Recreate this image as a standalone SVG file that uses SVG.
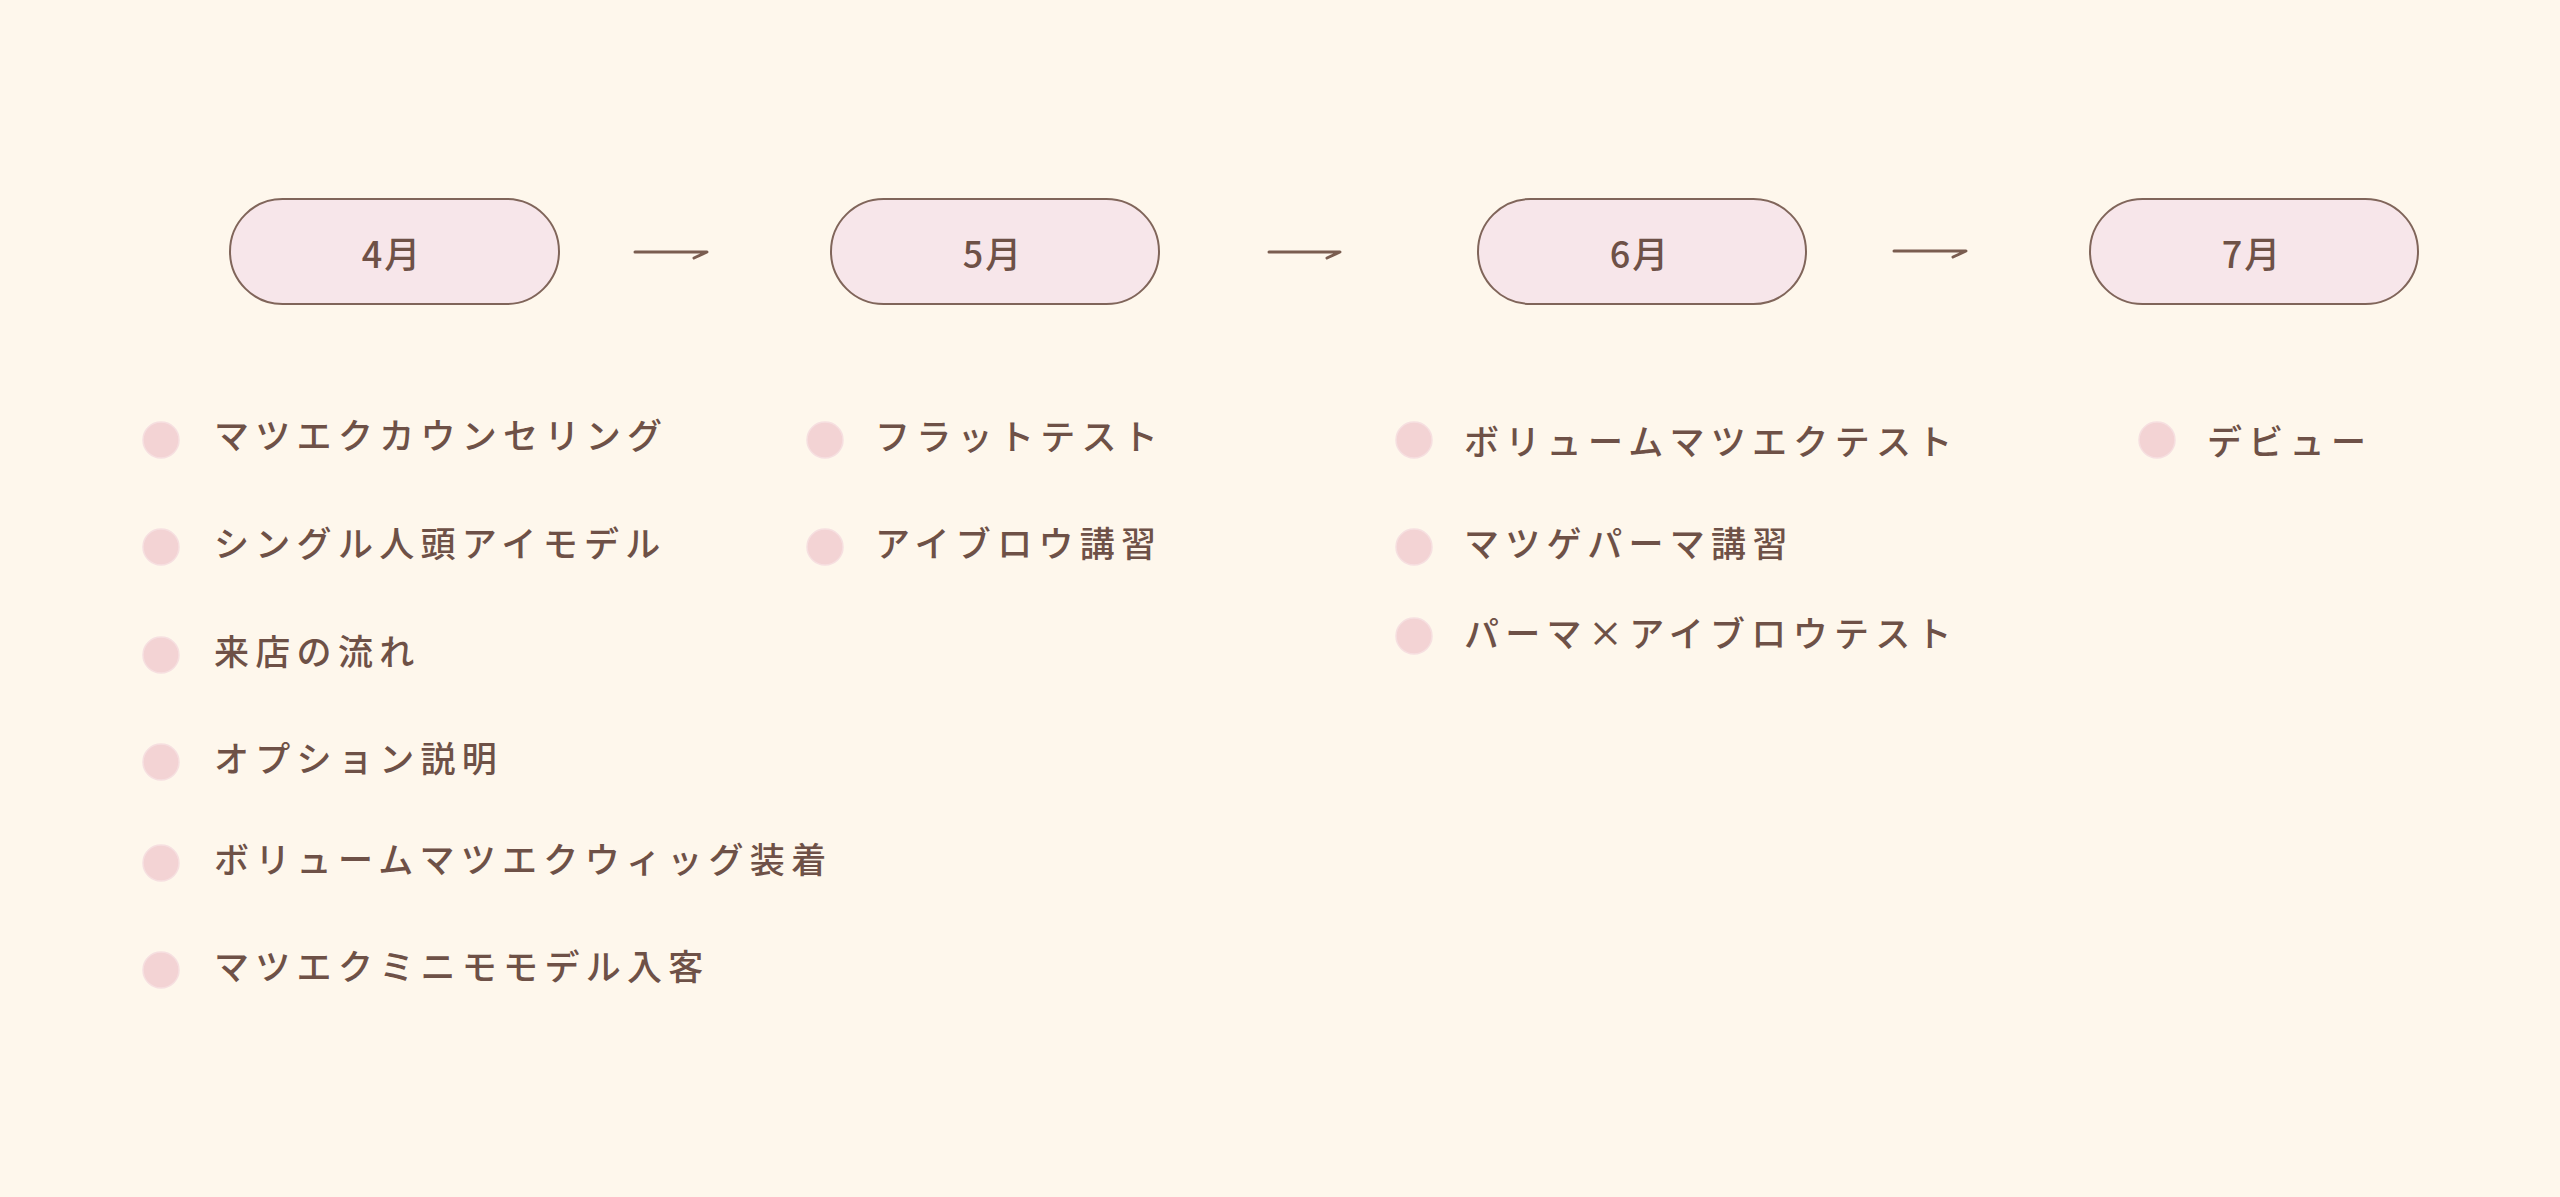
<svg xmlns="http://www.w3.org/2000/svg" width="2560" height="1197" viewBox="0 0 2560 1197">
<style>
.pill{fill:#f7e6ea;stroke:#80655a;stroke-width:2}
.pt{font-family:"Noto Sans CJK JP","Noto Sans",sans-serif;font-size:36px;font-weight:500;fill:#6e5147;text-anchor:middle;letter-spacing:2px}
.dot{fill:#f3d3d4;stroke:#f6dfe0;stroke-width:1.5}
.it{font-family:"Noto Sans CJK JP","Noto Sans",sans-serif;font-size:35px;font-weight:500;fill:#6e5147;letter-spacing:6.3px}
.arr{fill:none;stroke:#7a5d50;stroke-width:3;stroke-linecap:round;stroke-linejoin:round}
</style>
<rect width="2560" height="1197" fill="#fef7ec"/>
<g id="connectors">
<path class="arr" d="M635 252H707L694 258"/>
<path class="arr" d="M1269 252H1340L1327 258"/>
<path class="arr" d="M1894 251H1966L1953 257"/>
</g>
<g id="apr">
<rect class="pill" x="230" y="199" width="329" height="105" rx="52.5"/>
<text class="pt" x="392" y="268">4月</text>
</g>
<g id="may">
<rect class="pill" x="831" y="199" width="328" height="105" rx="52.5"/>
<text class="pt" x="993" y="268">5月</text>
</g>
<g id="jun">
<rect class="pill" x="1478" y="199" width="328" height="105" rx="52.5"/>
<text class="pt" x="1640" y="268">6月</text>
</g>
<g id="jul">
<rect class="pill" x="2090" y="199" width="328" height="105" rx="52.5"/>
<text class="pt" x="2252" y="268">7月</text>
</g>
<g id="apr-items">
<circle class="dot" cx="161" cy="440" r="18"/><text class="it" x="214" y="449">マツエクカウンセリング</text>
<circle class="dot" cx="161" cy="547" r="18"/><text class="it" x="214" y="557">シングル人頭アイモデル</text>
<circle class="dot" cx="161" cy="655" r="18"/><text class="it" x="214" y="665">来店の流れ</text>
<circle class="dot" cx="161" cy="762" r="18"/><text class="it" x="214" y="772">オプション説明</text>
<circle class="dot" cx="161" cy="863" r="18"/><text class="it" x="214" y="873">ボリュームマツエクウィッグ装着</text>
<circle class="dot" cx="161" cy="970" r="18"/><text class="it" x="214" y="980">マツエクミニモモデル入客</text>
</g>
<g id="may-items">
<circle class="dot" cx="825" cy="440" r="18"/><text class="it" x="875" y="450">フラットテスト</text>
<circle class="dot" cx="825" cy="547" r="18"/><text class="it" x="875" y="557">アイブロウ講習</text>
</g>
<g id="jun-items">
<circle class="dot" cx="1414" cy="440" r="18"/><text class="it" x="1464" y="455">ボリュームマツエクテスト</text>
<circle class="dot" cx="1414" cy="547" r="18"/><text class="it" x="1464" y="557">マツゲパーマ講習</text>
<circle class="dot" cx="1414" cy="636" r="18"/><text class="it" x="1464" y="647">パーマ×アイブロウテスト</text>
</g>
<g id="jul-items">
<circle class="dot" cx="2157" cy="440" r="18"/><text class="it" x="2207" y="455">デビュー</text>
</g>
</svg>
